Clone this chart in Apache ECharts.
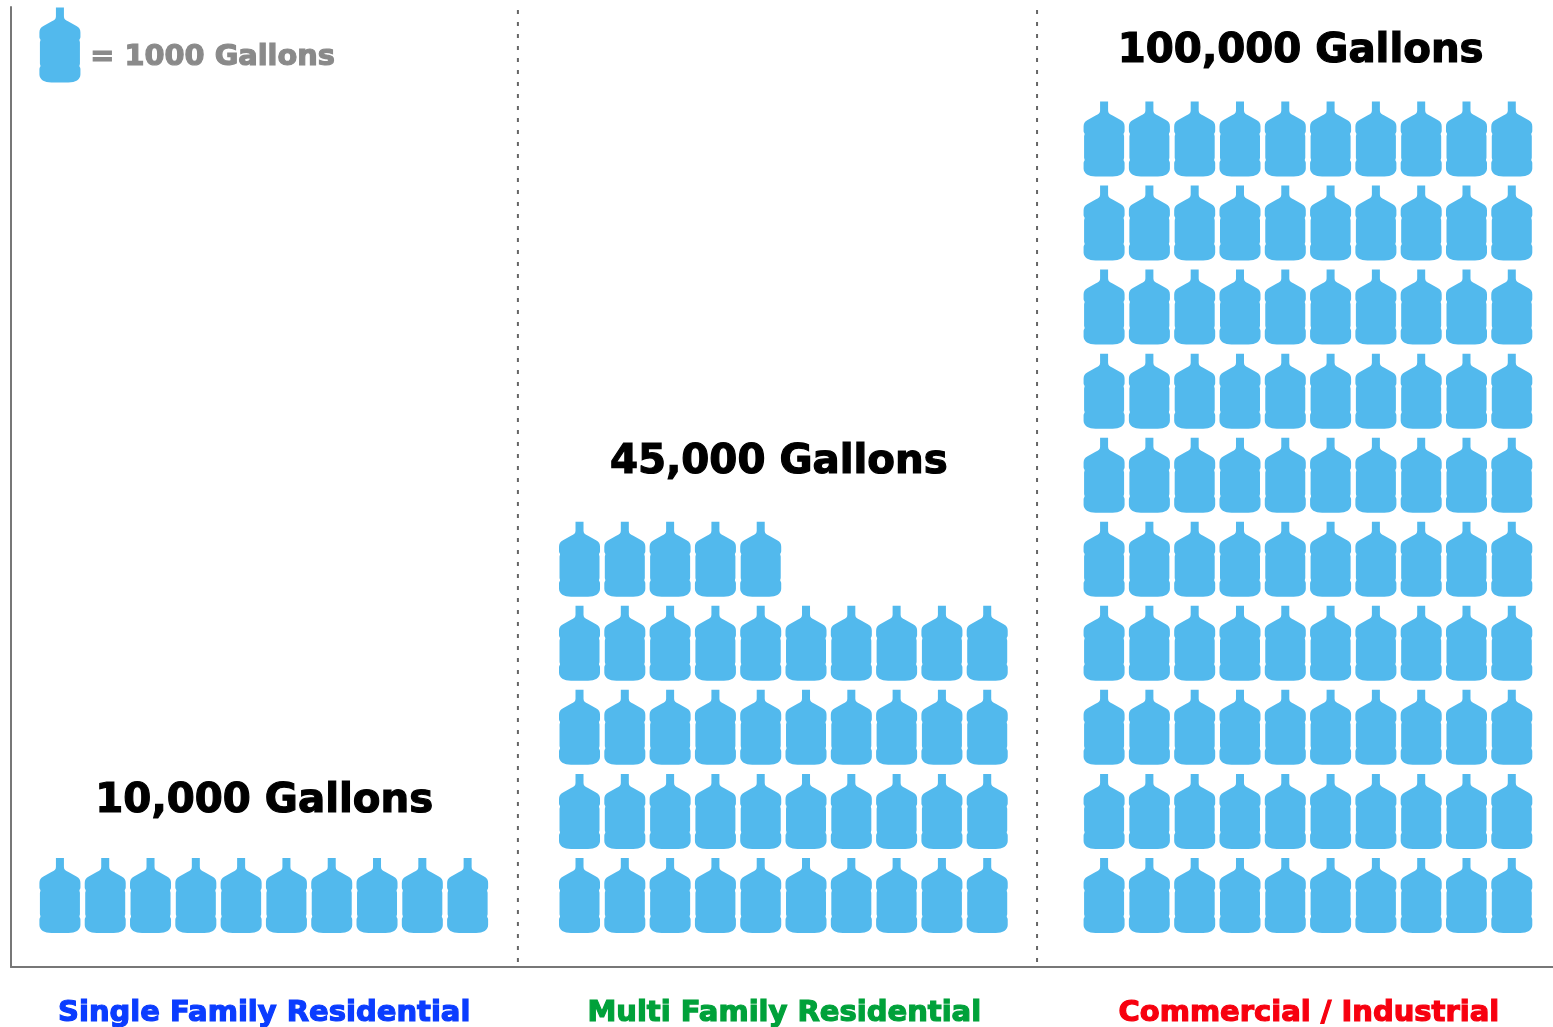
<!DOCTYPE html>
<html><head><meta charset="utf-8">
<style>html,body{margin:0;padding:0;background:#fff}#c{width:1553px;height:1027px}</style>
<script src="https://cdn.jsdelivr.net/npm/echarts@6/dist/echarts.min.js"></script>
</head><body><div id="c"></div>
<script>
const categories = ['Single Family Residential', 'Multi Family Residential', 'Commercial / Industrial'];
const gallons = [10000, 45000, 100000];
const totalLabels = ['10,000 Gallons', '45,000 Gallons', '100,000 Gallons'];
const categoryColors = ['#0A3CFF', '#00A13A', '#F7000F'];
const gallonsPerBottle = 1000;
const bottlesPerRow = 10;
const legendLabel = '= 1000 Gallons';

// layout (axis units: 1 x unit = one bottle column, 1 y unit = one bottle row)
const colPx = 45.3, rowPx = 84.05, gridW = 1542, gridH = 960;
const xMax = gridW / colPx, yMax = gridH / rowPx;
const groupStart = [1.08, 12.55, 24.13];
const rowBase = 0.851;
const titleCentre = [5.59, 16.95, 28.47];
const titleGap = [1.115, 1.15, 1.04];
const catCentre = [5.59, 17.07, 28.65];
const catY = -0.55;
const dividers = [11.19, 22.65];
const dividerEnds = [0.06, yMax];

const bottle = 'path://M16.5,0 L24.5,0 L24.5,9 C24.5,11.5 26,12.5 29,14 L37,18.5 C40,20 41,22 41,25 L41,29.5 C41,31 40,31.5 40,32.5 C40,33.5 40.5,34 40.5,35 L40.5,56 C40.5,57 40,57.5 40,58.5 C40,59.5 41,60 41,61.5 L41,67 C41,72 36,75 29,75 L12,75 C5,75 0,72 0,67 L0,61.5 C0,60 1,59.5 1,58.5 C1,57.5 0.5,57 0.5,56 L0.5,35 C0.5,34 1,33.5 1,32.5 C1,31.5 0,31 0,29.5 L0,25 C0,22 1,20 4,18.5 L12,14 C15,12.5 16.5,11.5 16.5,9 Z';

const bottles = [];
gallons.forEach((g, i) => {
  const n = g / gallonsPerBottle;
  for (let k = 0; k < n; k++) {
    bottles.push([groupStart[i] + (k % bottlesPerRow), rowBase + Math.floor(k / bottlesPerRow)]);
  }
});

const heavy = (color, size) => ({
  show: true, position: 'inside', color, fontFamily: '"DejaVu Sans", sans-serif',
  fontWeight: 'bold', fontSize: size, textBorderColor: color, textBorderWidth: 1.2,
  align: 'center', verticalAlign: 'middle'
});
const solid = { opacity: 1 };

const series = [
  { type: 'scatter', name: 'Bottles', symbol: bottle, symbolSize: [41, 75], clip: false, silent: true,
    itemStyle: { color: '#52B9ED', opacity: 1 }, data: bottles },
  { type: 'scatter', name: 'Key', symbol: bottle, symbolSize: [41, 75], clip: false, silent: true,
    itemStyle: { color: '#52B9ED', opacity: 1 }, data: [[groupStart[0], 10.97]] },
  { type: 'scatter', name: 'KeyText', symbolSize: 0, clip: false, silent: true, itemStyle: solid,
    data: [{ value: [4.45, 10.815], label: Object.assign(heavy('#8A8A8A', 28.8), { formatter: legendLabel }) }] },
  { type: 'scatter', name: 'Totals', symbolSize: 0, clip: false, silent: true, itemStyle: solid,
    data: gallons.map((g, i) => ({
      value: [titleCentre[i], rowBase + Math.ceil(g / gallonsPerBottle / bottlesPerRow) - 1 + titleGap[i]],
      label: Object.assign(heavy('#000', 40.3), { formatter: totalLabels[i] })
    })) },
  { type: 'scatter', name: 'Categories', symbolSize: 0, clip: false, silent: true, itemStyle: solid,
    data: categories.map((c, i) => ({
      value: [catCentre[i], catY],
      label: Object.assign(heavy(categoryColors[i], 29), { formatter: c })
    })) }
];
dividers.forEach(x => series.push({
  type: 'line', symbol: 'none', silent: true,
  lineStyle: { color: '#666', width: 2, type: [4, 8] },
  data: [[x, dividerEnds[0]], [x, dividerEnds[1]]]
}));

const chart = echarts.init(document.getElementById('c'), null, { renderer: 'canvas' });
chart.setOption({
  animation: false, backgroundColor: '#fff',
  grid: { left: 11, top: 7, width: gridW, height: gridH, containLabel: false },
  xAxis: { type: 'value', min: 0, max: xMax, axisLine: { show: true, onZero: false, lineStyle: { color: '#777', width: 2 } },
    axisTick: { show: false }, axisLabel: { show: false }, splitLine: { show: false } },
  yAxis: { type: 'value', min: 0, max: yMax, axisLine: { show: true, onZero: false, lineStyle: { color: '#777', width: 2 } },
    axisTick: { show: false }, axisLabel: { show: false }, splitLine: { show: false } },
  series
});
</script></body></html>
